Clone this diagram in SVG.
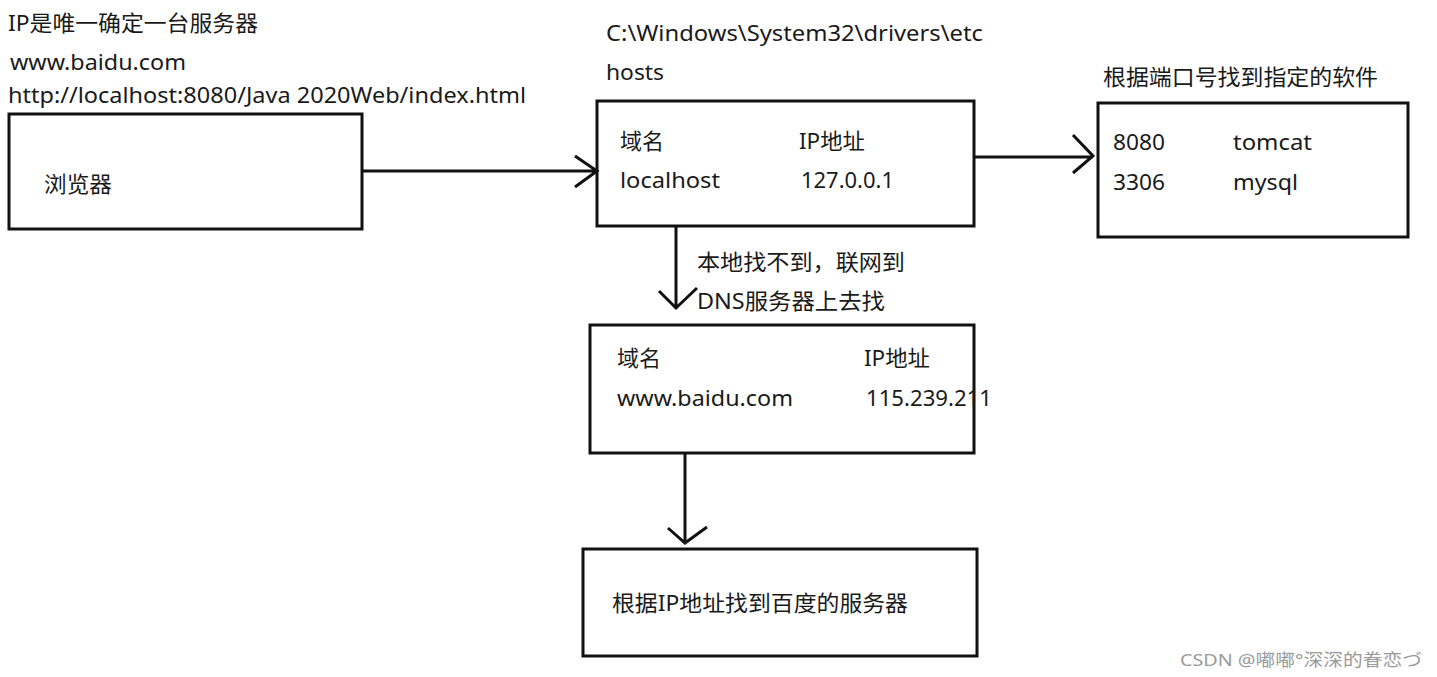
<svg xmlns="http://www.w3.org/2000/svg" width="1437" height="677" viewBox="0 0 1437 677">
<style>
.t{font-family:"Noto Sans","Noto Sans CJK SC",sans-serif;font-size:22px;fill:#1a1a1a}
.box{fill:#fff;stroke:#111;stroke-width:3}
.ln{fill:none;stroke:#111;stroke-width:3}
.wm{font-family:"Noto Sans","Noto Sans CJK SC",sans-serif;font-size:17px;fill:#9a9a9a}
</style>
<rect width="1437" height="677" fill="#fff"/>
<g id="labels">
<text class="t" x="8" y="31" textLength="250" lengthAdjust="spacingAndGlyphs">IP是唯一确定一台服务器</text>
<text class="t" x="10" y="70" textLength="176" lengthAdjust="spacingAndGlyphs">www.baidu.com</text>
<text class="t" x="8" y="103" textLength="518" lengthAdjust="spacingAndGlyphs">http://localhost:8080/Java 2020Web/index.html</text>
<text class="t" x="606" y="41" textLength="377" lengthAdjust="spacingAndGlyphs">C:\Windows\System32\drivers\etc</text>
<text class="t" x="606" y="80" textLength="58" lengthAdjust="spacingAndGlyphs">hosts</text>
<text class="t" x="1103" y="85" textLength="275" lengthAdjust="spacingAndGlyphs">根据端口号找到指定的软件</text>
<text class="t" x="697" y="270" textLength="208" lengthAdjust="spacingAndGlyphs">本地找不到，联网到</text>
<text class="t" x="697" y="309" textLength="188" lengthAdjust="spacingAndGlyphs">DNS服务器上去找</text>
</g>
<g id="browser">
<rect class="box" x="9" y="114" width="353" height="115"/>
<text class="t" x="44" y="192" textLength="68" lengthAdjust="spacingAndGlyphs">浏览器</text>
</g>
<g id="hosts">
<rect class="box" x="597" y="101" width="377" height="125"/>
<text class="t" x="620" y="149" textLength="44" lengthAdjust="spacingAndGlyphs">域名</text>
<text class="t" x="799" y="149" textLength="66" lengthAdjust="spacingAndGlyphs">IP地址</text>
<text class="t" x="620" y="188" textLength="100" lengthAdjust="spacingAndGlyphs">localhost</text>
<text class="t" x="801" y="188" textLength="93" lengthAdjust="spacingAndGlyphs">127.0.0.1</text>
</g>
<g id="ports">
<rect class="box" x="1098" y="103" width="310" height="134"/>
<text class="t" x="1113" y="150" textLength="52" lengthAdjust="spacingAndGlyphs">8080</text>
<text class="t" x="1233" y="150" textLength="79" lengthAdjust="spacingAndGlyphs">tomcat</text>
<text class="t" x="1113" y="190" textLength="52" lengthAdjust="spacingAndGlyphs">3306</text>
<text class="t" x="1233" y="190" textLength="65" lengthAdjust="spacingAndGlyphs">mysql</text>
</g>
<g id="dns">
<rect class="box" x="590" y="325" width="384" height="128"/>
<text class="t" x="617" y="366" textLength="44" lengthAdjust="spacingAndGlyphs">域名</text>
<text class="t" x="864" y="366" textLength="66" lengthAdjust="spacingAndGlyphs">IP地址</text>
<text class="t" x="617" y="406" textLength="176" lengthAdjust="spacingAndGlyphs">www.baidu.com</text>
<text class="t" x="866" y="406" textLength="126" lengthAdjust="spacingAndGlyphs">115.239.211</text>
</g>
<g id="server">
<rect class="box" x="583" y="549" width="394" height="107"/>
<text class="t" x="612" y="611" textLength="296" lengthAdjust="spacingAndGlyphs">根据IP地址找到百度的服务器</text>
</g>
<g id="connectors">
<path class="ln" d="M362 171 H597 M575 156 L597 171 L575 187"/>
<path class="ln" d="M974 157 H1093 M1073 135 L1093 156 L1073 173"/>
<path class="ln" d="M676 226 V308 M659 291 L676 308 L697 288"/>
<path class="ln" d="M685 453 V543 M668 528 L685 543 L707 527"/>
</g>
<text class="wm" x="1180" y="666" textLength="242" lengthAdjust="spacingAndGlyphs">CSDN @嘟嘟°深深的眷恋づ</text>
</svg>
